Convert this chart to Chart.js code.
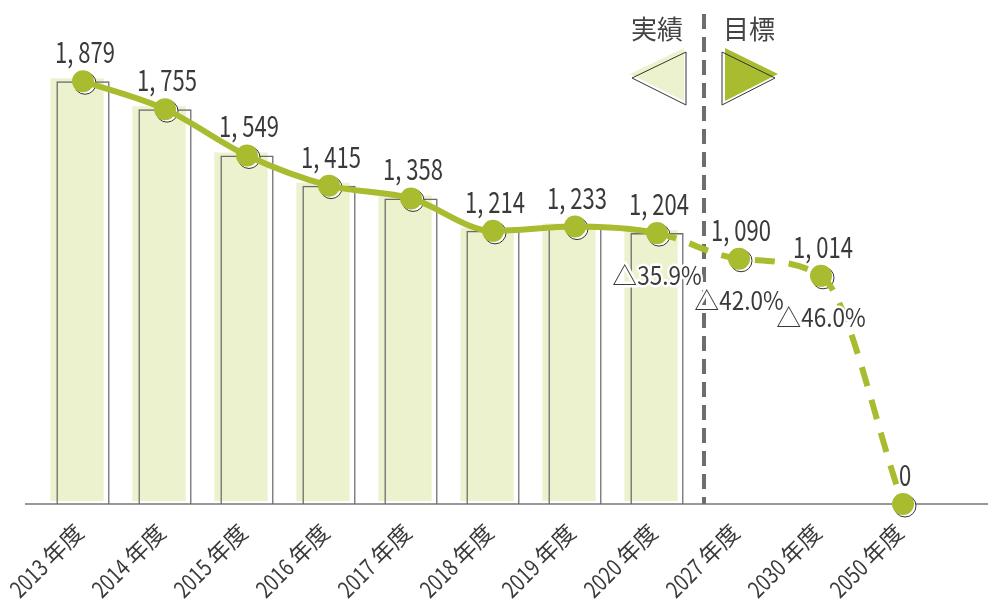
<!DOCTYPE html>
<html lang="ja">
<head>
<meta charset="utf-8">
<title>排出量の推移</title>
<script src="https://cdn.jsdelivr.net/npm/chart.js@4.4.1/dist/chart.umd.min.js"></script>
<style>
  html, body { margin: 0; padding: 0; background: #fff; }
  #wrap { position: relative; width: 988px; height: 599px; }
</style>
</head>
<body>
<div id="wrap"><canvas id="emissionChart"></canvas></div>
<script>
// 年度ラベル
const years = ['2013 年度', '2014 年度', '2015 年度', '2016 年度', '2017 年度', '2018 年度',
               '2019 年度', '2020 年度', '2027 年度', '2030 年度', '2050 年度'];
// 実績 (2013〜2020)
const actual = [1879, 1755, 1549, 1415, 1358, 1214, 1233, 1204];
// 目標 (2027, 2030, 2050)
const target = [1090, 1014, 0];
// 2013年度比の削減率
const reductionYears = ['2020 年度', '2027 年度', '2030 年度'];
const reductionRates = [35.9, 42.0, 46.0];

const GREEN = '#a9bc30';
const LIGHT = '#ecf2cd';
const INK = '#3a3a3a';
const FONT = "'Noto Sans CJK JP', 'Noto Sans', sans-serif";

const totals = actual.concat(target);
const lastActual = actual.length - 1;

function fmt(v) {
    return v.toLocaleString('en-US').replace(',', ', ');
}

function dividerX(chart) {
    const x = chart.scales.x;
    return (x.getPixelForValue(lastActual) + x.getPixelForValue(lastActual + 1)) / 2 + 6;
}

// 英数字だけ横に詰めて描く (和文はそのまま)
function drawText(ctx, text, x, y, align, squeeze, halo) {
    const parts = text.match(/[\x20-\x7e]+|[^\x20-\x7e]+/g);
    const isAscii = p => /^[\x20-\x7e]+$/.test(p);
    const widths = parts.map(p => ctx.measureText(p).width * (isAscii(p) ? squeeze : 1));
    const total = widths.reduce((a, b) => a + b, 0);
    let cx = align === 'center' ? x - total / 2 : align === 'right' ? x - total : x;
    ctx.textAlign = 'left';
    parts.forEach((p, k) => {
        ctx.save();
        ctx.translate(cx, y);
        if (isAscii(p)) ctx.scale(squeeze, 1);
        if (halo) {
            ctx.strokeStyle = '#fff';
            ctx.lineWidth = 5;
            ctx.lineJoin = 'round';
            ctx.strokeText(p, 0, 0);
        }
        ctx.fillText(p, 0, 0);
        ctx.restore();
        cx += widths[k];
    });
}

// 塗りの棒は枠から少しずらして描く
const offsetFill = {
    id: 'offsetFill',
    beforeDatasetDraw(chart, args) {
        if (args.index === 0) {
            chart.ctx.save();
            chart.ctx.translate(-6, -3);
        }
        if (args.index === 2) {
            // マーカーの影の輪
            const ctx = chart.ctx;
            ctx.save();
            args.meta.data.forEach(pt => {
                ctx.beginPath();
                ctx.arc(pt.x + 2, pt.y + 2, 11, 0, Math.PI * 2);
                ctx.fillStyle = '#fff';
                ctx.fill();
                ctx.lineWidth = 1;
                ctx.strokeStyle = '#333';
                ctx.stroke();
            });
            ctx.restore();
        }
    },
    afterDatasetDraw(chart, args) {
        if (args.index === 0) chart.ctx.restore();
    }
};

// 基準線・区切り線・凡例・ラベル
const frame = {
    id: 'frame',
    beforeDatasetsDraw(chart) {
        const ctx = chart.ctx;
        const base = chart.scales.y.getPixelForValue(0);
        const dx = dividerX(chart);
        ctx.save();
        ctx.strokeStyle = '#777';
        ctx.lineWidth = 1.5;
        ctx.beginPath();
        ctx.moveTo(25, base);
        ctx.lineTo(chart.width, base);
        ctx.stroke();

        ctx.strokeStyle = '#716c6c';
        ctx.lineWidth = 4;
        ctx.setLineDash([15, 8]);
        ctx.beginPath();
        ctx.moveTo(dx, 14);
        ctx.lineTo(dx, base);
        ctx.stroke();
        ctx.setLineDash([]);

        // 凡例
        ctx.fillStyle = '#444';
        ctx.font = '400 26px ' + FONT;
        ctx.textBaseline = 'middle';
        ctx.textAlign = 'right';
        ctx.fillText('実績', dx - 21, 29);
        ctx.textAlign = 'left';
        ctx.fillText('目標', dx + 19, 29);

        ctx.fillStyle = LIGHT;
        ctx.beginPath();
        ctx.moveTo(dx - 74, 74);
        ctx.lineTo(dx - 20, 48);
        ctx.lineTo(dx - 20, 101);
        ctx.closePath();
        ctx.fill();
        ctx.strokeStyle = '#333';
        ctx.lineWidth = 1;
        ctx.beginPath();
        ctx.moveTo(dx - 72, 78);
        ctx.lineTo(dx - 18, 52);
        ctx.lineTo(dx - 18, 105);
        ctx.closePath();
        ctx.stroke();

        ctx.fillStyle = GREEN;
        ctx.beginPath();
        ctx.moveTo(dx + 21, 48);
        ctx.lineTo(dx + 21, 101);
        ctx.lineTo(dx + 74, 74);
        ctx.closePath();
        ctx.fill();
        ctx.beginPath();
        ctx.moveTo(dx + 18, 52);
        ctx.lineTo(dx + 18, 105);
        ctx.lineTo(dx + 71, 78);
        ctx.closePath();
        ctx.stroke();

        // 年度ラベル (45度)
        const xs = chart.scales.x;
        ctx.fillStyle = INK;
        ctx.font = '400 23px ' + FONT;
        ctx.textBaseline = 'middle';
        years.forEach((label, i) => {
            ctx.save();
            ctx.translate(xs.getPixelForValue(i) - 4, base + 24);
            ctx.rotate(-Math.PI / 4);
            drawText(ctx, label, 0, 0, 'right', 0.82, false);
            ctx.restore();
        });
        ctx.restore();
    },
    afterDatasetsDraw(chart) {
        const ctx = chart.ctx;
        const meta = chart.getDatasetMeta(2);
        ctx.save();
        ctx.fillStyle = INK;
        ctx.textBaseline = 'alphabetic';
        ctx.font = '400 29px ' + FONT;
        meta.data.forEach((pt, i) => {
            drawText(ctx, fmt(totals[i]), pt.x + 2, pt.y - 18, 'center', 0.76, false);
        });

        ctx.textBaseline = 'middle';
        ctx.font = '400 25px ' + FONT;
        reductionYears.forEach((y, j) => {
            const pt = meta.data[years.indexOf(y)];
            const label = '△' + reductionRates[j].toFixed(1) + '%';
            drawText(ctx, label, pt.x, pt.y + 42, 'center', 0.9, true);
        });
        ctx.restore();
    }
};

const ctx = document.getElementById('emissionChart').getContext('2d');
new Chart(ctx, {
    data: {
        labels: years,
        datasets: [
            {
                type: 'bar',
                data: actual,
                backgroundColor: LIGHT,
                borderWidth: 0,
                grouped: false,
                barPercentage: 0.65,
                categoryPercentage: 1,
                order: 3
            },
            {
                type: 'bar',
                data: actual,
                backgroundColor: 'rgba(0,0,0,0)',
                borderColor: '#6b6b6b',
                borderWidth: 1.5,
                grouped: false,
                barPercentage: 0.65,
                categoryPercentage: 1,
                order: 2
            },
            {
                type: 'line',
                data: totals,
                borderColor: GREEN,
                borderWidth: 6,
                cubicInterpolationMode: 'monotone',
                pointRadius: 11,
                pointBackgroundColor: GREEN,
                pointBorderWidth: 0,
                clip: false,
                segment: {
                    borderDash: c => c.p0DataIndex >= lastActual ? [20, 14] : undefined
                },
                order: 1
            }
        ]
    },
    options: {
        responsive: true,
        maintainAspectRatio: false,
        animation: false,
        events: [],
        layout: { padding: { top: 54, left: 42, right: 44, bottom: 0 } },
        plugins: {
            legend: { display: false },
            tooltip: { enabled: false }
        },
        scales: {
            x: {
                offset: true,
                grid: { display: false, drawTicks: false },
                border: { display: false },
                ticks: { display: false },
                afterFit(scale) { scale.height = 95; }
            },
            y: { display: false, min: 0, max: 2000 }
        }
    },
    plugins: [offsetFill, frame]
});
</script>
</body>
</html>
